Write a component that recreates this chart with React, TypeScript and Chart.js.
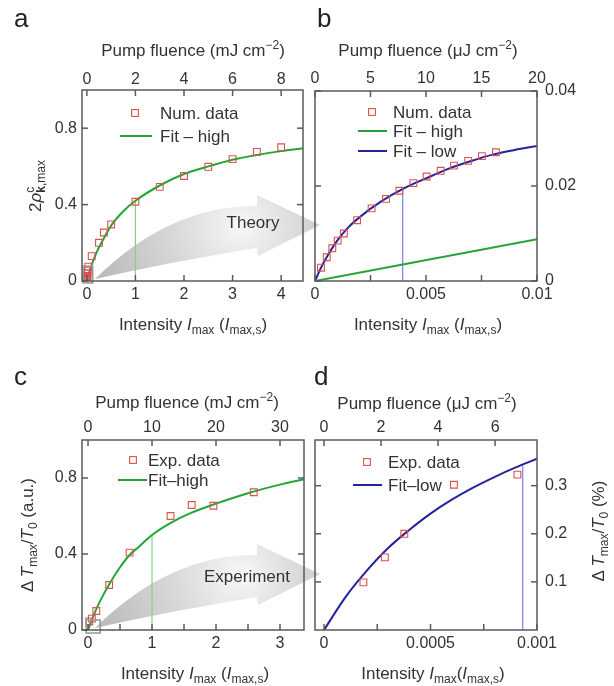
import React, { useEffect, useRef } from 'react';
import { Chart, registerables } from 'chart.js';
Chart.register(...registerables);

const W = 614;
const H = 686;
const FAMILY = '"Liberation Sans", Arial, Helvetica, sans-serif';
const TEXT = '#333333';
const FRAME = '#5a5a5a';
const RED = '#d9534f';
const GREEN = '#22a534';
const GREEN_LIGHT = '#7fd47f';
const BLUE = '#23239c';
const BLUE_LIGHT = '#7c7cea';

// ---------- Panel a (theory, high intensity) ----------
const aNumX = [0.01, 0.02, 0.03, 0.1, 0.25, 0.35, 0.5, 1, 1.5, 2, 2.5, 3, 3.5, 4];
const aNumY = [0.04, 0.055, 0.075, 0.13, 0.2, 0.254, 0.296, 0.415, 0.493, 0.55, 0.598, 0.638, 0.676, 0.7];
const aFitX = [0, 0.05, 0.1, 0.2, 0.3, 0.5, 0.75, 1, 1.5, 2, 2.5, 3, 3.5, 4, 4.45];
const aFitY = [0, 0.045, 0.085, 0.15, 0.2, 0.29, 0.365, 0.42, 0.5, 0.56, 0.6, 0.635, 0.66, 0.68, 0.695];
const aMarkX = [1, 1];
const aMarkY = [0, 0.42];

// ---------- Panel b (theory, low intensity) ----------
const bNumX = [0.00027, 0.00053, 0.00078, 0.00102, 0.0013, 0.0019, 0.00255, 0.0032, 0.0038, 0.00443, 0.00503, 0.00566, 0.00626, 0.0069, 0.00752, 0.00815];
const bNumY = [0.0028, 0.005, 0.0069, 0.0085, 0.01, 0.0128, 0.0153, 0.0173, 0.019, 0.0206, 0.022, 0.0232, 0.0243, 0.0253, 0.0263, 0.0271];
const bHighX = [0, 0.01];
const bHighY = [0, 0.0088];
const bLowX = [0, 0.00025, 0.0005, 0.001, 0.0015, 0.002, 0.003, 0.004, 0.005, 0.006, 0.007, 0.008, 0.009, 0.01];
const bLowY = [0, 0.0026, 0.0048, 0.0085, 0.0113, 0.0134, 0.0168, 0.0195, 0.0216, 0.0236, 0.0252, 0.0266, 0.0276, 0.0284];
const bMarkX = [0.00395, 0.00395];
const bMarkY = [0, 0.0192];

// ---------- Panel c (experiment, high intensity) ----------
const cExpX = [0.02, 0.06, 0.13, 0.33, 0.65, 1.29, 1.62, 1.96, 2.59];
const cExpY = [0.045, 0.06, 0.1, 0.237, 0.407, 0.6, 0.658, 0.654, 0.725];
const cFitX = [0, 0.05, 0.1, 0.2, 0.33, 0.5, 0.65, 0.8, 1, 1.3, 1.6, 2, 2.5, 3, 3.375];
const cFitY = [0, 0.045, 0.088, 0.16, 0.24, 0.33, 0.395, 0.44, 0.5, 0.565, 0.615, 0.665, 0.72, 0.765, 0.793];
const cMarkX = [1, 1];
const cMarkY = [0, 0.5];

// ---------- Panel d (experiment, low intensity) ----------
const dExpX = [0.000185, 0.000286, 0.000377, 0.00061, 0.000908];
const dExpY = [0.099, 0.151, 0.2, 0.302, 0.323];
const dFitX = [0, 0.0001, 0.0002, 0.0003, 0.0004, 0.0005, 0.0006, 0.0007, 0.0008, 0.0009, 0.001];
const dFitY = [0, 0.068, 0.123, 0.17, 0.208, 0.242, 0.271, 0.296, 0.318, 0.338, 0.356];
const dMarkX = [0.000933, 0.000933];
const dMarkY = [0, 0.345];

// ---------- Tick values and labels ----------
const aBottomTicks = [0, 1, 2, 3, 4];
const aBottomLabels = ['0', '1', '2', '3', '4'];
const aTopTicks = [0, 2, 4, 6, 8];
const aTopLabels = ['0', '2', '4', '6', '8'];
const aLeftTicks = [0, 0.4, 0.8];
const aLeftLabels = ['0', '0.4', '0.8'];
const aRightTicks = [0.4, 0.8];

const bBottomTicks = [0, 0.0025, 0.005, 0.0075, 0.01];
const bBottomLabels = ['0', '', '0.005', '', '0.01'];
const bTopTicks = [0, 5, 10, 15, 20];
const bTopLabels = ['0', '5', '10', '15', '20'];
const bLeftTicks = [0, 0.02, 0.04];
const bRightTicks = [0, 0.02, 0.04];
const bRightLabels = ['0', '0.02', '0.04'];

const cBottomTicks = [0, 0.5, 1, 1.5, 2, 2.5, 3];
const cBottomLabels = ['0', '', '1', '', '2', '', '3'];
const cTopTicks = [0, 10, 20, 30];
const cTopLabels = ['0', '10', '20', '30'];
const cLeftTicks = [0, 0.4, 0.8];
const cLeftLabels = ['0', '0.4', '0.8'];
const cRightTicks = [0.4, 0.8];

const dBottomTicks = [0, 0.00025, 0.0005, 0.00075, 0.001];
const dBottomLabels = ['0', '', '0.0005', '', '0.001'];
const dTopTicks = [0, 2, 4, 6];
const dTopLabels = ['0', '2', '4', '6'];
const dLeftTicks = [0.1, 0.2, 0.3];
const dRightTicks = [0.1, 0.2, 0.3];
const dRightLabels = ['0.1', '0.2', '0.3'];

// ---------- Rich text ----------
type Seg = { t: string; it?: boolean; b?: boolean; sub?: boolean; sup?: boolean; noAdv?: boolean };
const fluenceMJ: Seg[] = [{ t: 'Pump fluence (mJ cm' }, { t: '\u22122', sup: true }, { t: ')' }];
const fluenceUJ: Seg[] = [{ t: 'Pump fluence (\u03bcJ cm' }, { t: '\u22122', sup: true }, { t: ')' }];
const intensity: Seg[] = [{ t: 'Intensity ' }, { t: 'I', it: true }, { t: 'max', sub: true }, { t: ' (' }, { t: 'I', it: true }, { t: 'max,s', sub: true }, { t: ')' }];
const intensityD: Seg[] = [{ t: 'Intensity ' }, { t: 'I', it: true }, { t: 'max', sub: true }, { t: '(' }, { t: 'I', it: true }, { t: 'max,s', sub: true }, { t: ')' }];
const rhoTitle: Seg[] = [{ t: '2' }, { t: '\u03c1', it: true }, { t: 'c', sup: true, noAdv: true }, { t: 'k', sub: true, b: true }, { t: ',max', sub: true }];
const dtAU: Seg[] = [{ t: '\u0394\u2009' }, { t: 'T', it: true }, { t: 'max', sub: true }, { t: '/' }, { t: 'T', it: true }, { t: '0', sub: true }, { t: ' (a.u.)' }];
const dtPct: Seg[] = [{ t: '\u0394\u2009' }, { t: 'T', it: true }, { t: 'max', sub: true }, { t: '/' }, { t: 'T', it: true }, { t: '0', sub: true }, { t: ' (%)' }];

function segFont(s: Seg, size: number) {
  const sz = s.sub || s.sup ? Math.round(size * 0.7) : size;
  return `${s.it ? 'italic ' : ''}${s.b ? 'bold ' : ''}${sz}px ${FAMILY}`;
}

function drawRich(ctx: CanvasRenderingContext2D, segs: Seg[], cx: number, cy: number, size: number, rot: number) {
  ctx.save();
  let total = 0;
  const ws = segs.map((s) => {
    ctx.font = segFont(s, size);
    const w = ctx.measureText(s.t).width;
    if (!s.noAdv) total += w;
    return w;
  });
  ctx.translate(cx, cy);
  if (rot) ctx.rotate(rot);
  ctx.fillStyle = TEXT;
  ctx.textAlign = 'left';
  ctx.textBaseline = 'alphabetic';
  let x = -total / 2;
  const base = size * 0.36;
  segs.forEach((s, i) => {
    ctx.font = segFont(s, size);
    let y = base;
    if (s.sub) y += size * 0.25;
    if (s.sup) y -= size * 0.42;
    ctx.fillText(s.t, x, y);
    if (!s.noAdv) x += ws[i];
  });
  ctx.restore();
}

// ---------- Helpers ----------
const pts = (xs: number[], ys: number[]) => xs.map((x, i) => ({ x, y: ys[i] }));

function pointsDS(xs: number[], ys: number[]) {
  return {
    data: pts(xs, ys),
    showLine: false,
    pointStyle: 'rect',
    pointRadius: 4.8,
    pointBorderColor: RED,
    pointBackgroundColor: 'rgba(0,0,0,0)',
    pointBorderWidth: 1.1,
  };
}
function lineDS(xs: number[], ys: number[], color: string, width: number, smooth = true) {
  return {
    data: pts(xs, ys),
    showLine: true,
    borderColor: color,
    borderWidth: width,
    pointRadius: 0,
    tension: smooth ? 0.4 : 0,
    cubicInterpolationMode: smooth ? 'monotone' : 'default',
    fill: false,
  };
}

const HBOX = 30; // height of horizontal axis boxes
const VBOX = 52; // width of vertical axis boxes (labels are clipped to this box)
function axis(position: string, min: number, max: number, ticks: number[], labels: string[] | null, pad: number) {
  return {
    type: 'linear',
    position,
    min,
    max,
    bounds: 'data',
    grid: { display: false, drawTicks: false },
    border: { display: false },
    afterBuildTicks: (s: any) => {
      s.ticks = ticks.map((v) => ({ value: v }));
    },
    afterFit: (s: any) => {
      if (position === 'top' || position === 'bottom') s.height = HBOX;
      else s.width = VBOX;
    },
    ticks: {
      display: !!labels,
      autoSkip: false,
      maxRotation: 0,
      minRotation: 0,
      padding: pad,
      color: TEXT,
      font: { family: FAMILY, size: 16 },
      callback: (_v: any, i: number) => (labels ? labels[i] : ''),
    },
  };
}

type Title = { segs: Seg[]; x: number; y: number; rot?: number };
type LegendRow = { kind: 'square' | 'line'; color: string; label: string; y: number };
type Panel = {
  area: { l: number; t: number; r: number; b: number };
  datasets: any[];
  scales: any;
  titles: Title[];
  letter: { t: string; x: number; y: number };
  legend: { markX: number; lineX0: number; lineX1: number; textX: number; rows: LegendRow[] };
  arrow?: { label: string; tx: number; ty: number };
  box?: { x0: number; x1: number; y0: number; y1: number };
};

function drawArrow(ctx: CanvasRenderingContext2D, ca: any, a: { label: string; tx: number; ty: number }) {
  const L = ca.left;
  const B = ca.bottom;
  ctx.save();
  ctx.beginPath();
  ctx.moveTo(L + 13, B - 2);
  ctx.quadraticCurveTo(L + 88, B - 76, L + 175, B - 75);
  ctx.lineTo(L + 175, B - 86);
  ctx.lineTo(L + 238, B - 56);
  ctx.lineTo(L + 176, B - 25);
  ctx.lineTo(L + 175, B - 33);
  ctx.quadraticCurveTo(L + 88, B - 19, L + 13, B - 2);
  ctx.closePath();
  const g = ctx.createRadialGradient(L + 160, B - 55, 4, L + 145, B - 50, 190);
  g.addColorStop(0, '#f5f5f5');
  g.addColorStop(0.35, '#d6d6d6');
  g.addColorStop(0.75, '#b8b8b8');
  g.addColorStop(1, '#adadad');
  ctx.fillStyle = g;
  ctx.fill();
  ctx.fillStyle = TEXT;
  ctx.font = `17px ${FAMILY}`;
  ctx.textAlign = 'center';
  ctx.textBaseline = 'middle';
  ctx.fillText(a.label, L + a.tx, B + a.ty);
  ctx.restore();
}

function decor(p: Panel) {
  return {
    id: 'decor',
    beforeDatasetsDraw(chart: any) {
      if (p.arrow) drawArrow(chart.ctx, chart.chartArea, p.arrow);
    },
    afterDatasetsDraw(chart: any) {
      const ctx: CanvasRenderingContext2D = chart.ctx;
      const ca = chart.chartArea;
      ctx.save();
      if (p.box) {
        const xs = chart.scales.x;
        const ys = chart.scales.y;
        const x0 = xs.getPixelForValue(p.box.x0);
        const x1 = xs.getPixelForValue(p.box.x1);
        const y0 = ys.getPixelForValue(p.box.y0);
        const y1 = ys.getPixelForValue(p.box.y1);
        ctx.strokeStyle = '#9a9a9a';
        ctx.lineWidth = 1.6;
        ctx.strokeRect(x0, y1, x1 - x0, y0 - y1);
      }
      ctx.strokeStyle = FRAME;
      ctx.lineWidth = 1.5;
      ctx.strokeRect(ca.left, ca.top, ca.right - ca.left, ca.bottom - ca.top);
      const TL = 6;
      Object.values(chart.scales).forEach((s: any) => {
        s.ticks.forEach((t: any) => {
          const px = s.getPixelForValue(t.value);
          ctx.beginPath();
          if (s.position === 'bottom') { ctx.moveTo(px, ca.bottom); ctx.lineTo(px, ca.bottom - TL); }
          else if (s.position === 'top') { ctx.moveTo(px, ca.top); ctx.lineTo(px, ca.top + TL); }
          else if (s.position === 'left') { ctx.moveTo(ca.left, px); ctx.lineTo(ca.left + TL, px); }
          else { ctx.moveTo(ca.right, px); ctx.lineTo(ca.right - TL, px); }
          ctx.stroke();
        });
      });
      // legend
      const lg = p.legend;
      ctx.font = `17px ${FAMILY}`;
      ctx.textAlign = 'left';
      ctx.textBaseline = 'middle';
      lg.rows.forEach((r) => {
        if (r.kind === 'square') {
          ctx.strokeStyle = r.color;
          ctx.lineWidth = 1.1;
          ctx.strokeRect(lg.markX - 3.4, r.y - 3.4, 6.8, 6.8);
        } else {
          ctx.strokeStyle = r.color;
          ctx.lineWidth = 2;
          ctx.beginPath();
          ctx.moveTo(lg.lineX0, r.y);
          ctx.lineTo(lg.lineX1, r.y);
          ctx.stroke();
        }
        ctx.fillStyle = TEXT;
        ctx.fillText(r.label, lg.textX, r.y + 1);
      });
      ctx.restore();
      // titles
      p.titles.forEach((t) => drawRich(ctx, t.segs, t.x, t.y, 17, t.rot || 0));
      ctx.save();
      ctx.fillStyle = '#222';
      ctx.font = `26px ${FAMILY}`;
      ctx.textAlign = 'left';
      ctx.textBaseline = 'alphabetic';
      ctx.fillText(p.letter.t, p.letter.x, p.letter.y);
      ctx.restore();
    },
  };
}

function build(p: Panel) {
  const a = p.area;
  return {
    type: 'scatter',
    data: { datasets: p.datasets },
    options: {
      responsive: false,
      animation: false,
      events: [],
      layout: { padding: { left: a.l - VBOX, top: a.t - HBOX, right: W - a.r - VBOX, bottom: H - a.b - HBOX } },
      plugins: { legend: { display: false }, tooltip: { enabled: false } },
      scales: p.scales,
    },
    plugins: [decor(p)],
  } as any;
}

const V = -Math.PI / 2;

const panelA: Panel = {
  area: { l: 82, t: 90, r: 303, b: 281 },
  datasets: [
    pointsDS([...aNumX, ...bNumX], [...aNumY, ...bNumY]),
    lineDS(aFitX, aFitY, GREEN, 2),
    lineDS(aMarkX, aMarkY, GREEN_LIGHT, 1.2, false),
  ],
  scales: {
    x: axis('bottom', -0.1, 4.45, aBottomTicks, aBottomLabels, 4),
    x2: axis('top', -0.2, 8.9, aTopTicks, aTopLabels, 1),
    y: axis('left', 0, 1, aLeftTicks, aLeftLabels, 5),
    y2: axis('right', 0, 1, aRightTicks, null, 8),
  },
  titles: [
    { segs: fluenceMJ, x: 193, y: 50 },
    { segs: intensity, x: 193, y: 324 },
    { segs: rhoTitle, x: 35, y: 186, rot: V },
  ],
  letter: { t: 'a', x: 14, y: 27 },
  legend: {
    markX: 135, lineX0: 120, lineX1: 152, textX: 160,
    rows: [
      { kind: 'square', color: RED, label: 'Num. data', y: 113 },
      { kind: 'line', color: GREEN, label: 'Fit \u2013 high', y: 136 },
    ],
  },
  arrow: { label: 'Theory', tx: 171, ty: -58 },
  box: { x0: -0.08, x1: 0.12, y0: -0.01, y1: 0.078 },
};

const panelB: Panel = {
  area: { l: 315, t: 91, r: 537, b: 281 },
  datasets: [
    pointsDS(bNumX, bNumY),
    lineDS(bLowX, bLowY, BLUE, 2),
    lineDS(bHighX, bHighY, GREEN, 2, false),
    lineDS(bMarkX, bMarkY, BLUE_LIGHT, 1.2, false),
  ],
  scales: {
    x: axis('bottom', 0, 0.01, bBottomTicks, bBottomLabels, 4),
    x2: axis('top', 0, 20, bTopTicks, bTopLabels, 3),
    y: axis('left', 0, 0.04, bLeftTicks, null, 5),
    y2: axis('right', 0, 0.04, bRightTicks, bRightLabels, 8),
  },
  titles: [
    { segs: fluenceUJ, x: 428, y: 50 },
    { segs: intensity, x: 428, y: 324 },
  ],
  letter: { t: 'b', x: 317, y: 27 },
  legend: {
    markX: 372, lineX0: 358, lineX1: 387, textX: 393,
    rows: [
      { kind: 'square', color: RED, label: 'Num. data', y: 112 },
      { kind: 'line', color: GREEN, label: 'Fit \u2013 high', y: 131 },
      { kind: 'line', color: BLUE, label: 'Fit \u2013 low', y: 151 },
    ],
  },
};

const panelC: Panel = {
  area: { l: 82, t: 440, r: 304, b: 630 },
  datasets: [
    pointsDS(cExpX, cExpY),
    lineDS(cFitX, cFitY, GREEN, 2),
    lineDS(cMarkX, cMarkY, GREEN_LIGHT, 1.2, false),
  ],
  scales: {
    x: axis('bottom', -0.094, 3.375, cBottomTicks, cBottomLabels, 4),
    x2: axis('top', -0.94, 33.75, cTopTicks, cTopLabels, 3),
    y: axis('left', 0, 1, cLeftTicks, cLeftLabels, 5),
    y2: axis('right', 0, 1, cRightTicks, null, 8),
  },
  titles: [
    { segs: fluenceMJ, x: 187, y: 402 },
    { segs: intensity, x: 195, y: 673 },
    { segs: dtAU, x: 27, y: 535, rot: V },
  ],
  letter: { t: 'c', x: 14, y: 385 },
  legend: {
    markX: 133, lineX0: 118, lineX1: 147, textX: 148,
    rows: [
      { kind: 'square', color: RED, label: 'Exp. data', y: 460 },
      { kind: 'line', color: GREEN, label: 'Fit\u2013high', y: 480 },
    ],
  },
  arrow: { label: 'Experiment', tx: 165, ty: -53 },
  box: { x0: -0.03, x1: 0.19, y0: -0.016, y1: 0.053 },
};

const panelD: Panel = {
  area: { l: 315, t: 440, r: 537, b: 630 },
  datasets: [
    pointsDS(dExpX, dExpY),
    lineDS(dFitX, dFitY, BLUE, 2),
    lineDS(dMarkX, dMarkY, BLUE_LIGHT, 1.2, false),
  ],
  scales: {
    x: axis('bottom', -0.0000423, 0.001, dBottomTicks, dBottomLabels, 4),
    x2: axis('top', -0.316, 7.47, dTopTicks, dTopLabels, 3),
    y: axis('left', 0, 0.395, dLeftTicks, null, 5),
    y2: axis('right', 0, 0.395, dRightTicks, dRightLabels, 8),
  },
  titles: [
    { segs: fluenceUJ, x: 427, y: 403 },
    { segs: intensityD, x: 433, y: 673 },
    { segs: dtPct, x: 598, y: 531, rot: V },
  ],
  letter: { t: 'd', x: 314, y: 385 },
  legend: {
    markX: 367, lineX0: 353, lineX1: 382, textX: 388,
    rows: [
      { kind: 'square', color: RED, label: 'Exp. data', y: 462 },
      { kind: 'line', color: BLUE, label: 'Fit\u2013low', y: 485 },
    ],
  },
};

const PANELS = [panelA, panelB, panelC, panelD];

export default function App() {
  const r0 = useRef<HTMLCanvasElement>(null);
  const r1 = useRef<HTMLCanvasElement>(null);
  const r2 = useRef<HTMLCanvasElement>(null);
  const r3 = useRef<HTMLCanvasElement>(null);
  const refs = [r0, r1, r2, r3];
  useEffect(() => {
    const charts = PANELS.map((p, i) => new Chart(refs[i].current as HTMLCanvasElement, build(p)));
    return () => charts.forEach((c) => c.destroy());
  }, []);
  return (
    <div style={{ position: 'absolute', left: 0, top: 0, width: W, height: H, background: '#ffffff', overflow: 'hidden' }}>
      {refs.map((r, i) => (
        <canvas
          key={i}
          ref={r}
          width={W}
          height={H}
          style={{ position: 'absolute', left: 0, top: 0, width: W, height: H }}
        />
      ))}
    </div>
  );
}
